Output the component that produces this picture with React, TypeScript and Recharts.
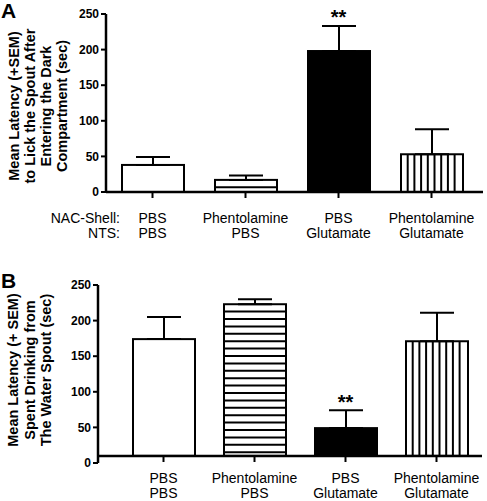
import React from 'react';
import { BarChart, Bar, XAxis, YAxis, ErrorBar, ReferenceLine, ReferenceDot } from 'recharts';

// groups: NAC-Shell / NTS treatment
const nacShell = ['PBS', 'Phentolamine', 'PBS', 'Phentolamine'];
const nts = ['PBS', 'PBS', 'Glutamate', 'Glutamate'];
const barStyles = ['open', 'hstripe', 'solid', 'vstripe'];

// panel A: latency to lick the spout
const latencyMean = [38, 17, 198, 53];
const latencySem = [11, 6, 35, 35];
const latencyStars = ['', '', '**', ''];

// panel B: time spent drinking
const drinkMean = [174, 223, 49, 171];
const drinkSem = [31, 7, 25, 40];
const drinkStars = ['', '', '**', ''];

const yTicks = [0, 50, 100, 150, 200, 250];
const drinkAxisBase = 10;

const FONT = '"Liberation Sans", Arial, Helvetica, sans-serif';

function makeRows(means: number[], sems: number[], stars: string[], base: number) {
  return means.map((m, i) => ({
    name: `g${i}`,
    nac: nacShell[i],
    nts: nts[i],
    style: barStyles[i],
    range: [base, m],
    top: m + sems[i],
    err: [0, sems[i]],
    star: stars[i]
  }));
}

const latencyRows = makeRows(latencyMean, latencySem, latencyStars, 0);
const drinkRows = makeRows(drinkMean, drinkSem, drinkStars, drinkAxisBase);

function PatternBar(props: any) {
  const { x, y, width, height, payload } = props;
  if (!height || height <= 0) return null;
  const style = payload.style;
  const lines: React.ReactNode[] = [];
  if (style === 'hstripe') {
    const step = 7.4;
    for (let yy = y + step; yy < y + height - 2; yy += step) {
      lines.push(<line key={yy} x1={x} x2={x + width} y1={yy} y2={yy} stroke="#000" strokeWidth={2} />);
    }
  }
  if (style === 'vstripe') {
    const step = 6.7;
    for (let xx = x + step; xx < x + width - 2; xx += step) {
      lines.push(<line key={xx} x1={xx} x2={xx} y1={y} y2={y + height} stroke="#000" strokeWidth={2} />);
    }
  }
  return (
    <g>
      <rect x={x} y={y} width={width} height={height} fill={style === 'solid' ? '#000' : '#fff'} stroke="#000" strokeWidth={2} />
      {lines}
    </g>
  );
}

function CategoryTick(props: any) {
  const { x, y, payload, rows, markTop, markBottom, line1, line2 } = props;
  const row = rows[payload.index];
  return (
    <g>
      <line x1={x} x2={x} y1={y + markTop} y2={y + markBottom} stroke="#000" strokeWidth={2} />
      <text x={x} y={y + line1} textAnchor="middle" fontSize={14} fill="#000">{row.nac}</text>
      <text x={x} y={y + line2} textAnchor="middle" fontSize={14} fill="#000">{row.nts}</text>
    </g>
  );
}

function AxisTitle({ viewBox, lines, xs, dy }: any) {
  const cy = viewBox.y + viewBox.height / 2 + dy;
  return (
    <g>
      {lines.map((t: string, i: number) => (
        <text key={t} x={xs[i]} y={cy} transform={`rotate(-90 ${xs[i]} ${cy})`} textAnchor="middle"
          dominantBaseline="central" fontSize={14.5} fontWeight="bold" fill="#000">{t}</text>
      ))}
    </g>
  );
}

const yTickStyle = { fill: '#000', fontSize: 12, fontWeight: 'bold' };

export default function App() {
  return (
    <div style={{ position: 'absolute', left: 0, top: 0, width: 487, height: 501, background: '#fff', fontFamily: FONT }}>
      <div style={{ position: 'absolute', left: 0, top: 0 }}>
        <BarChart width={487} height={250} data={latencyRows} margin={{ top: 14, right: 4, bottom: 0, left: 0 }}>
          <text x={1} y={18} fontSize={21} fontWeight="bold" fill="#000">A</text>
          <text x={120} y={223} textAnchor="end" fontSize={14} fill="#000">NAC-Shell:</text>
          <text x={120} y={238} textAnchor="end" fontSize={14} fill="#000">NTS:</text>
          <XAxis dataKey="name" height={58} padding={{ left: 0, right: 5 }} tickSize={0} tickMargin={0} tickLine={false}
            axisLine={{ stroke: '#000', strokeWidth: 2.5 }} interval={0}
            tick={<CategoryTick rows={latencyRows} markTop={0} markBottom={6} line1={31} line2={46} />} />
          <YAxis type="number" domain={[0, 250]} ticks={yTicks} width={106} interval={0} tickSize={5} tickMargin={2}
            tick={yTickStyle} axisLine={{ stroke: '#000', strokeWidth: 2.5 }} tickLine={{ stroke: '#000', strokeWidth: 2 }}
            label={{ content: (p: any) => <AxisTitle {...p} dy={3} xs={[14, 30, 46, 62]}
              lines={['Mean Latency (+SEM)', 'to Lick the Spout After', 'Entering the Dark', 'Compartment (sec)']} /> }} />
          <Bar dataKey="range" barSize={62} shape={<PatternBar />} isAnimationActive={false}>
            <ErrorBar dataKey="err" width={17} stroke="#000" strokeWidth={2} isAnimationActive={false} />
          </Bar>
          {latencyRows.filter((r) => r.star).map((r) => (
            <ReferenceDot key={r.name} x={r.name} y={r.top} r={0} fill="none" stroke="none"
              label={{ value: r.star, position: 'top', offset: 2, fontSize: 20, fontWeight: 'bold', fill: '#000' }} />
          ))}
        </BarChart>
      </div>
      <div style={{ position: 'absolute', left: 0, top: 250 }}>
        <BarChart width={487} height={251} data={drinkRows} margin={{ top: 35, right: 5, bottom: 0, left: 0 }}>
          <text x={1} y={38} fontSize={21} fontWeight="bold" fill="#000">B</text>
          <XAxis dataKey="name" height={38} padding={{ left: 20, right: 0 }} tickSize={0} tickMargin={0} tickLine={false}
            axisLine={false} interval={0}
            tick={<CategoryTick rows={drinkRows} markTop={-7} markBottom={-1} line1={20} line2={35} />} />
          <YAxis type="number" domain={[0, 250]} ticks={yTicks} width={98} interval={0} tickSize={5} tickMargin={2}
            tick={yTickStyle} axisLine={{ stroke: '#000', strokeWidth: 2.5 }} tickLine={{ stroke: '#000', strokeWidth: 2 }}
            label={{ content: (p: any) => <AxisTitle {...p} dy={-4} xs={[13, 30, 46]}
              lines={['Mean Latency (+ SEM)', 'Spent Drinking from', 'The Water Spout (sec)']} /> }} />
          <ReferenceLine y={drinkAxisBase} stroke="#000" strokeWidth={2.5} />
          <Bar dataKey="range" barSize={62} shape={<PatternBar />} isAnimationActive={false}>
            <ErrorBar dataKey="err" width={17} stroke="#000" strokeWidth={2} isAnimationActive={false} />
          </Bar>
          {drinkRows.filter((r) => r.star).map((r) => (
            <ReferenceDot key={r.name} x={r.name} y={r.top} r={0} fill="none" stroke="none"
              label={{ value: r.star, position: 'top', offset: 1, fontSize: 20, fontWeight: 'bold', fill: '#000' }} />
          ))}
        </BarChart>
      </div>
    </div>
  );
}
